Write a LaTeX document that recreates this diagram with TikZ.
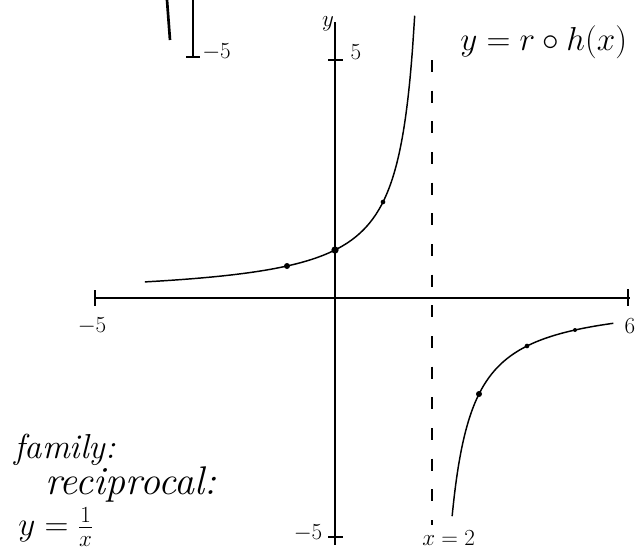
\documentclass[tikz,border=0pt]{standalone}
\usepackage{amsmath}
\begin{document}
\begin{tikzpicture}[x=0.75pt,y=-0.75pt,
  ax/.style={line width=1.1pt,black},
  crv/.style={line width=1.1pt,black},
  dot/.style={circle,fill=black,inner sep=0pt,minimum size=4.5pt},
  hand/.style={font=\fontsize{26}{30}\selectfont\itshape,inner sep=0pt},
  lbl/.style={font=\fontsize{17}{20}\selectfont,inner sep=0pt}]
\useasboundingbox (0,0) rectangle (641,551);
% axes
\coordinate (xl) at (95,298); \coordinate (xr) at (630,298);
\coordinate (yt) at (335,22); \coordinate (yb) at (335,545);
\draw[ax] (xl) -- (xr);
\draw[ax] (yt) -- (yb);
% ticks
\coordinate (tx1) at (95,290); \coordinate (tx1b) at (95,306);
\coordinate (tx2) at (628,289); \coordinate (tx2b) at (628,306);
\coordinate (ty1) at (328,60); \coordinate (ty1b) at (343,60);
\coordinate (ty2) at (328,537); \coordinate (ty2b) at (343,537);
\draw[ax] (tx1) -- (tx1b); \draw[ax] (tx2) -- (tx2b);
\draw[ax] (ty1) -- (ty1b); \draw[ax] (ty2) -- (ty2b);
% asymptote
\coordinate (at) at (432,60); \coordinate (ab) at (432,525);
\draw[line width=1pt,dash pattern=on 9pt off 14pt] (at) -- (ab);
% curves
\draw[crv,domain=-3.96:1.66,samples=120,smooth] plot ({335+48*\x},{298-96/(2-\x)});
\draw[crv,domain=2.44:5.8,samples=120,smooth] plot ({335+48*\x},{298+96/(\x-2)});
% points
\node[dot] (p1) at ({335-48},{298-32}) {};
\node[dot,minimum size=5.5pt] (p2) at (335,250) {};
\node[dot,minimum size=3.5pt] (p3) at (383,202) {};
\node[dot] (p4) at (479,394) {};
\node[dot,minimum size=3.5pt] (p5) at (527,346) {};
\node[dot,minimum size=3pt] (p6) at (575,330) {};
% top-left remnants
\coordinate (r1t) at (167,0); \coordinate (r1b) at (170,40);
\coordinate (r2t) at (193,0); \coordinate (r2b) at (193,57);
\coordinate (r3l) at (186,57); \coordinate (r3r) at (200,57);
\draw[line width=2pt] (r1t) -- (r1b);
\draw[line width=1.2pt] (r2t) -- (r2b);
\draw[line width=1.2pt] (r3l) -- (r3r);
\node[lbl,anchor=west] (m5a) at (202,52) {$-5$};
% labels
\node[lbl] (ylab) at (328,24) {$y$};
\node[lbl] (y5) at (356,52) {$5$};
\node[hand,anchor=west] (title) at (460,42) {$y=r\circ h(x)$};
\node[lbl] (xm5) at (92,326) {$-5$};
\node[lbl] (x6) at (630,326) {$6$};
\node[lbl] (ym5) at (308,533) {$-5$};
\node[lbl,anchor=west,font=\fontsize{19}{22}\selectfont] (x2) at (422,538) {$x=2$};
\node[hand,anchor=west] (fam) at (14,450) {family:};
\node[hand,anchor=west,font=\fontsize{30}{34}\selectfont\itshape] (rec) at (45,484) {reciprocal:};
\node[hand,anchor=west,font=\fontsize{24}{28}\selectfont] (eq) at (18,527) {$y=\genfrac{}{}{0.6pt}{1}{1}{x}$};
\end{tikzpicture}
\end{document}
